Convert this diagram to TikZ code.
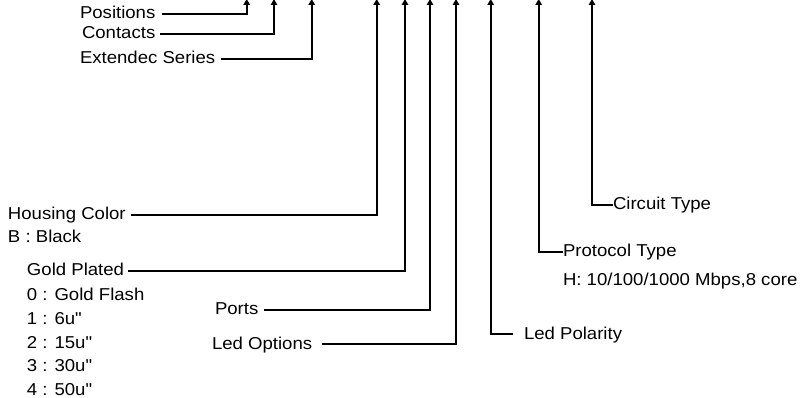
\documentclass[tikz,border=0pt]{standalone}
\usepackage{fontspec}
\setmainfont{Liberation Sans}[FakeStretch=1.08]
\usetikzlibrary{arrows.meta}
\tikzset{
  >={Triangle[width=6.5pt,length=6pt]},
  lbl/.style={anchor=text,inner sep=0pt,outer xsep=#1,text height=11.5pt,text depth=1.5pt,
    font=\fontsize{17.2}{20}\selectfont},
  lbl/.default=6pt,
  lead/.style={->,line width=1.8pt,draw=black},
}
\begin{document}
\begin{tikzpicture}[x=1pt,y=-1pt]
  \useasboundingbox (0,0) rectangle (809,398);
  % labels on the left, leads go right then up
  \foreach \n/\x/\y/\s/\t/\tx in {pos/80/14/7/Positions/246.7,con/82/34/5/Contacts/274,
    ext/80/59/6/Extendec Series/311.7,hou/8/215/5/Housing Color/376.7,
    gld/27/271/4/Gold Plated/405,prt/215/310/6/Ports/430,led/212/344/10/Led Options/456}{
    \node[lbl=\s pt] (\n) at (\x,\y+5) {\t};
    \coordinate (\n top) at (\tx,-1);
    \draw[lead] (\n.east) -| (\n top);
  }
  \node[lbl] (blk) at (8,243) {B : Black};
  \foreach \t [count=\i] in {0 : Gold Flash,1 : 6u\textquotedbl,2 : 15u\textquotedbl,
    3 : 30u\textquotedbl,4 : 50u\textquotedbl}
    \node[lbl] (opt\i) at (27,{301+23.5*(\i-1)}) {\t};
  % labels on the right, leads go left then up
  \node[lbl=11pt] (pol) at (524,339) {Led Polarity};
  \coordinate (pol top) at (490.7,-1);
  \draw[lead] (pol.west) -| (pol top);
  \node[lbl=0pt] (pro) at (563,257) {Protocol Type};
  \node[lbl] (mbps) at (563,286) {H: 10/100/1000 Mbps,8 core};
  \coordinate (pro top) at (538.7,-1);
  \draw[lead] (pro.west) -| (pro top);
  \node[lbl=0pt] (cir) at (613,210) {Circuit Type};
  \coordinate (cir top) at (592,-1);
  \draw[lead] (cir.west) -| (cir top);
\end{tikzpicture}
\end{document}
